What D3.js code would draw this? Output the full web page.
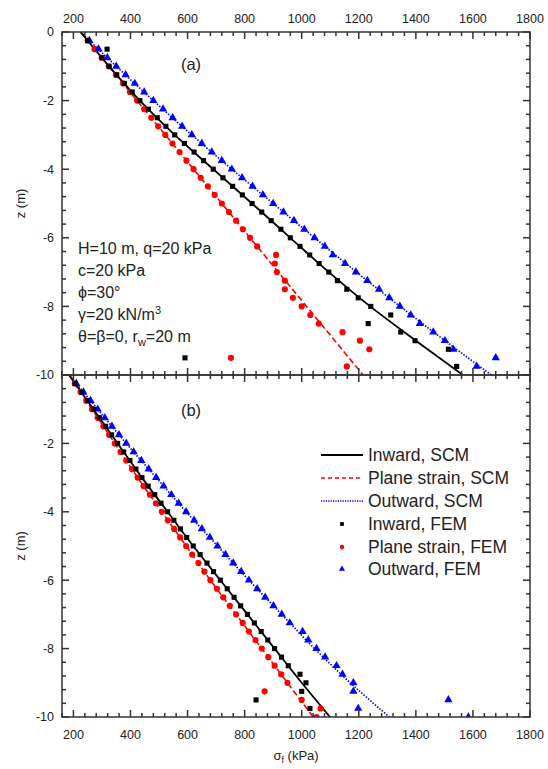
<!DOCTYPE html>
<html>
<head>
<meta charset="utf-8">
<script src="https://cdn.jsdelivr.net/npm/d3@7"></script>
<style>
  body { margin: 0; background: #fff; }
  svg { display: block; }
  text { font-family: "Liberation Sans", Arial, sans-serif; fill: #222; }
</style>
</head>
<body>
<svg id="chart" width="548" height="769"></svg>
<script>
// ---- Data: depth below surface (m) and failure stress sigma_f (kPa) ----
const depthSCM = [0, 1, 2, 3, 4, 5, 6, 7, 8, 9, 10];

// Panel (a)
const aInwardSCM  = [225, 325, 433, 555, 690, 826, 960, 1095, 1240, 1400, 1565];
const aPlaneSCM   = [225, 324, 423, 522, 621, 720, 819, 918, 1017, 1116, 1215];
const aOutwardSCM = [225, 350, 480, 615, 755, 900, 1045, 1192, 1345, 1502, 1665];

const aInwardFEMz = [0.25,0.5,0.75,1,1.25,1.5,1.75,2,2.25,2.5,2.75,3,3.25,3.5,3.75,4,4.25,4.5,4.75,5,5.25,5.5,5.75,6,6.25,6.5,6.75,7,7.25,7.5,7.75,8,8.25,8.5,8.75,9,9.25,9.5,9.75];
const aInwardFEM  = [250,318,300,325,352,379,406,433,463,494,524,555,589,623,656,690,724,758,792,826,860,893,927,960,994,1028,1061,1095,1125,1158,1198,1242,1312,1233,1347,1397,1514,591,1543];

const aPlaneFEMz = [0.25,0.5,0.75,1,1.25,1.5,1.75,2,2.25,2.5,2.75,3,3.25,3.5,3.75,4,4.25,4.5,4.75,5,5.25,5.5,5.75,6,6.25,6.5,6.75,7,7.25,7.5,7.75,8,8.25,8.5,8.75,9,9.25,9.5,9.75];
const aPlaneFEM  = [250,274,299,324,349,374,398,423,448,473,497,522,547,572,596,621,646,671,695,720,745,770,794,819,844,910,906,913,941,941,969,1000,1030,1060,1143,1204,1237,752,1158];

const aOutwardFEMz = [0.25,0.5,0.75,1,1.25,1.5,1.75,2,2.25,2.5,2.75,3,3.25,3.5,3.75,4,4.25,4.5,4.75,5,5.25,5.5,5.75,6,6.25,6.5,6.75,7,7.25,7.5,7.75,8,8.25,8.5,8.75,9,9.25,9.5,9.75];
const aOutwardFEM  = [256,288,319,350,383,415,448,480,514,548,581,615,650,685,720,755,791,828,864,900,936,973,1009,1045,1081,1109,1152,1190,1230,1271,1307,1344,1382,1414,1461,1502,1531,1680,1613];

// Panel (b)
const bInwardSCM  = [185, 270, 355, 440, 530, 620, 715, 810, 905, 1000, 1099];
const bPlaneSCM   = [185, 265, 345, 425, 510, 595, 680, 770, 860, 950, 1040];
const bOutwardSCM = [185, 285, 385, 490, 595, 705, 815, 930, 1045, 1170, 1307];

const bInwardFEMz = [0.25,0.5,0.75,1,1.25,1.5,1.75,2,2.25,2.5,2.75,3,3.25,3.5,3.75,4,4.25,4.5,4.75,5,5.25,5.5,5.75,6,6.25,6.5,6.75,7,7.25,7.5,7.75,8,8.25,8.5,8.75,9,9.25,9.5,9.75];
const bInwardFEM  = [206,228,249,270,291,313,334,355,376,398,419,440,462,485,507,530,552,575,597,620,644,668,691,715,739,763,786,810,834,858,881,905,929,953,994,1015,1000,840,1029];

const bPlaneFEMz = [0.25,0.5,0.75,1,1.25,1.5,1.75,2,2.25,2.5,2.75,3,3.25,3.5,3.75,4,4.25,4.5,4.75,5,5.25,5.5,5.75,6,6.25,6.5,6.75,7,7.25,7.5,7.75,8,8.25,8.5,8.75,9,9.25,9.5,9.75,10];
const bPlaneFEM  = [205,225,245,265,285,305,325,345,365,385,405,425,446,468,489,510,531,553,574,595,616,638,659,680,703,725,748,770,793,815,838,860,883,905,928,950,870,1000,1066,1052];

const bOutwardFEMz = [0.25,0.5,0.75,1,1.25,1.5,1.75,2,2.25,2.5,2.75,3,3.25,3.5,3.75,4,4.25,4.5,4.75,5,5.25,5.5,5.75,6,6.25,6.5,6.75,7,7.25,7.5,7.75,8,8.25,8.5,8.75,9,9.25,9.5,9.75,10];
const bOutwardFEM  = [210,235,260,285,310,335,360,385,411,438,464,490,516,543,569,595,623,650,678,705,733,760,788,815,844,872,901,930,958,1003,1023,1052,1082,1122,1143,1181,1181,1514,1198,1584];

const xTickValues = [200, 400, 600, 800, 1000, 1200, 1400, 1600, 1800];
const zTickValues = [0, -2, -4, -6, -8, -10];

const legendLabels = ["Inward, SCM", "Plane strain, SCM", "Outward, SCM", "Inward, FEM", "Plane strain, FEM", "Outward, FEM"];

// ---- Layout ----
const svg = d3.select("#chart");
const left = 62, right = 530;
const x = d3.scaleLinear().domain([160, 1800]).range([left, right]);
const yA = d3.scaleLinear().domain([0, -10]).range([32, 375]);
const yB = d3.scaleLinear().domain([0, -10]).range([375, 717]);

const COL = { inward: "#000000", plane: "#ff0000", outward: "#0000ff" };
const FONT = 12.5;

// minor ticks every 40 kPa and 0.4 m, majors every 200 kPa and 2 m
const xMinor = d3.range(160, 1800.1, 40);
const zMinor = d3.range(0, 10.001, 0.4).map(v => -Math.round(v * 10) / 10);
const isMajorX = v => Math.abs(v % 200) < 1e-6;
const isMajorZ = v => Math.abs(Math.round(v * 10) % 20) === 0;
const MAJ = 7, MIN = 4;

function drawFrame(g, y, opts) {
  const [y0, y1] = y.range();
  const frame = g.append("g").attr("stroke", "#333").attr("stroke-width", 1.5);
  frame.append("rect").attr("x", left).attr("y", y0).attr("width", right - left).attr("height", y1 - y0)
    .attr("fill", "none");
  // x ticks on top and bottom edges, pointing inward
  xMinor.forEach(v => {
    const len = isMajorX(v) ? MAJ : MIN;
    frame.append("line").attr("x1", x(v)).attr("x2", x(v)).attr("y1", y0).attr("y2", y0 + len);
    frame.append("line").attr("x1", x(v)).attr("x2", x(v)).attr("y1", y1).attr("y2", y1 - len);
  });
  // z ticks on left and right edges, pointing inward
  zMinor.forEach(v => {
    const len = isMajorZ(v) ? MAJ : MIN;
    frame.append("line").attr("x1", left).attr("x2", left + len).attr("y1", y(v)).attr("y2", y(v));
    frame.append("line").attr("x1", right).attr("x2", right - len).attr("y1", y(v)).attr("y2", y(v));
  });
  // z tick labels
  const labels = zTickValues.filter(v => !(opts.skipZero && v === 0));
  g.append("g").selectAll("text").data(labels).join("text")
    .attr("x", 54).attr("y", d => y(d)).attr("dy", "0.35em")
    .attr("text-anchor", "end").attr("font-size", FONT)
    .text(d => d === 0 ? "0" : "-" + Math.abs(d));
  if (opts.topLabels) {
    g.append("g").selectAll("text").data(xTickValues).join("text")
      .attr("x", d => x(d)).attr("y", y0 - 9).attr("text-anchor", "middle").attr("font-size", FONT)
      .text(d => d);
  }
  if (opts.bottomLabels) {
    g.append("g").selectAll("text").data(xTickValues).join("text")
      .attr("x", d => x(d)).attr("y", y1 + 22).attr("text-anchor", "middle").attr("font-size", FONT)
      .text(d => d);
  }
  // z axis title
  const yc = (y0 + y1) / 2;
  g.append("text").attr("transform", `translate(25,${yc}) rotate(-90)`)
    .attr("text-anchor", "middle").attr("font-size", 13).text("z (m)");
}

function lineOf(y, depths, vals) {
  return d3.line().x((d, i) => x(vals[i])).y(d => y(-d)).curve(d3.curveMonotoneY)(depths);
}

const symSquare = d3.symbol().type(d3.symbolSquare).size(26);
const symCircle = d3.symbol().type(d3.symbolCircle).size(30);
const symTri = d3.symbol().type(d3.symbolTriangle).size(30);

function drawPanel(y, scm, fem, clipId) {
  const [y0, y1] = y.range();
  svg.append("clipPath").attr("id", clipId).append("rect")
    .attr("x", left).attr("y", y0).attr("width", right - left).attr("height", y1 - y0);
  const g = svg.append("g").attr("clip-path", `url(#${clipId})`);
  // SCM curves
  g.append("path").attr("d", lineOf(y, depthSCM, scm.plane)).attr("fill", "none")
    .attr("stroke", COL.plane).attr("stroke-width", 1.6).attr("stroke-dasharray", "6,3");
  g.append("path").attr("d", lineOf(y, depthSCM, scm.outward)).attr("fill", "none")
    .attr("stroke", COL.outward).attr("stroke-width", 1.6).attr("stroke-dasharray", "1.5,1.5");
  g.append("path").attr("d", lineOf(y, depthSCM, scm.inward)).attr("fill", "none")
    .attr("stroke", COL.inward).attr("stroke-width", 1.8);
  // FEM points
  const pts = (zs, vs, sym, col) => g.append("g").selectAll("path").data(zs).join("path")
    .attr("transform", (d, i) => `translate(${x(vs[i])},${y(-d)})`)
    .attr("d", sym).attr("fill", col);
  pts(fem.planeZ, fem.plane, symCircle, COL.plane);
  pts(fem.outwardZ, fem.outward, symTri, COL.outward);
  pts(fem.inwardZ, fem.inward, symSquare, COL.inward);
}

drawPanel(yA,
  { inward: aInwardSCM, plane: aPlaneSCM, outward: aOutwardSCM },
  { inwardZ: aInwardFEMz, inward: aInwardFEM, planeZ: aPlaneFEMz, plane: aPlaneFEM, outwardZ: aOutwardFEMz, outward: aOutwardFEM },
  "clipA");
drawPanel(yB,
  { inward: bInwardSCM, plane: bPlaneSCM, outward: bOutwardSCM },
  { inwardZ: bInwardFEMz, inward: bInwardFEM, planeZ: bPlaneFEMz, plane: bPlaneFEM, outwardZ: bOutwardFEMz, outward: bOutwardFEM },
  "clipB");

const axes = svg.append("g");
drawFrame(axes.append("g"), yA, { topLabels: true });
drawFrame(axes.append("g"), yB, { bottomLabels: true, skipZero: true });

// panel tags
svg.append("text").attr("x", 191).attr("y", 70).attr("text-anchor", "middle").attr("font-size", 16.5).text("(a)");
svg.append("text").attr("x", 191).attr("y", 416).attr("text-anchor", "middle").attr("font-size", 16.5).text("(b)");

// x axis title: sigma with subscript f
const xt = svg.append("text").attr("x", 296).attr("y", 760).attr("text-anchor", "middle").attr("font-size", 13);
xt.append("tspan").text("σ");
xt.append("tspan").attr("font-size", 9).attr("dy", 3).text("f");
xt.append("tspan").attr("dy", -3).text(" (kPa)");

// soil and geometry parameters
const ann = svg.append("g").attr("font-size", 16);
const annY = [254, 276, 298, 320, 342];
ann.append("text").attr("x", 78).attr("y", annY[0]).text("H=10 m, q=20 kPa");
ann.append("text").attr("x", 78).attr("y", annY[1]).text("c=20 kPa");
ann.append("text").attr("x", 78).attr("y", annY[2]).text("ϕ=30°");
const gam = ann.append("text").attr("x", 78).attr("y", annY[3]);
gam.append("tspan").text("γ=20 kN/m");
gam.append("tspan").attr("font-size", 11).attr("dy", -6).text("3");
const th = ann.append("text").attr("x", 78).attr("y", annY[4]);
th.append("tspan").text("θ=β=0, r");
th.append("tspan").attr("font-size", 11).attr("dy", 4).text("w");
th.append("tspan").attr("dy", -4).text("=20 m");

// legend
const lg = svg.append("g");
const legY = [455, 478, 501, 524, 547, 569];
const legStyle = [
  { kind: "line", col: COL.inward, dash: null, w: 1.8 },
  { kind: "line", col: COL.plane, dash: "4,3", w: 1.6 },
  { kind: "line", col: COL.outward, dash: "1.2,1.2", w: 1.6 },
  { kind: "pt", col: COL.inward, sym: d3.symbol().type(d3.symbolSquare).size(14) },
  { kind: "pt", col: COL.plane, sym: d3.symbol().type(d3.symbolCircle).size(16) },
  { kind: "pt", col: COL.outward, sym: d3.symbol().type(d3.symbolTriangle).size(16) }
];
legendLabels.forEach((t, i) => {
  const s = legStyle[i];
  if (s.kind === "line") {
    lg.append("line").attr("x1", 321).attr("x2", 363).attr("y1", legY[i]).attr("y2", legY[i])
      .attr("stroke", s.col).attr("stroke-width", s.w).attr("stroke-dasharray", s.dash);
  } else {
    lg.append("path").attr("transform", `translate(342,${legY[i]})`).attr("d", s.sym).attr("fill", s.col);
  }
  lg.append("text").attr("x", 368).attr("y", legY[i]).attr("dy", "0.36em").attr("font-size", 17.5).text(t);
});
</script>
</body>
</html>
